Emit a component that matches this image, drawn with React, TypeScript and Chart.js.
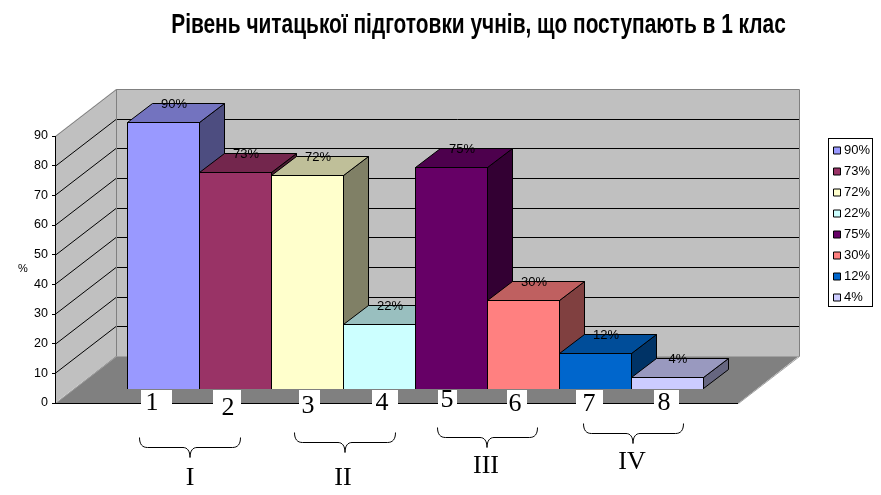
import React, { useEffect, useRef } from "react";
import { Chart, registerables } from "chart.js";

Chart.register(...registerables);

// ---- data ----
const categories = [1, 2, 3, 4, 5, 6, 7, 8];
const values = [90, 73, 72, 22, 75, 30, 12, 4];
const valueLabels = ["90%", "73%", "72%", "22%", "75%", "30%", "12%", "4%"];
const frontColors = ["#9999FF", "#993366", "#FFFFCC", "#CCFFFF", "#660066", "#FF8080", "#0066CC", "#CCCCFF"];
const groupNames = ["I", "II", "III", "IV"];
const titleText = "Рівень читацької підготовки учнів, що поступають в 1 клас";
const yTitle = "%";

// ---- annotation layout (hand-placed overlays of the picture) ----
const tagBoxes = [
  [141, 172, 152, 403], [213, 241, 228, 408], [299, 320, 308, 406], [372, 398, 382, 403],
  [438, 457, 447, 400], [507, 527, 515, 404], [576, 603, 589, 404], [654, 679, 664, 403],
];
const braces = [
  [139.5, 240.5, 190, 437.5], [294.5, 395.5, 345, 432.5], [437.5, 537.5, 487, 427.5], [583.5, 683.5, 633, 423.5],
];
const romanPos = [[190, 478], [343, 478], [486, 466], [632, 462]];

// ---- 3D projection settings ----
const WALL_DX = 61, WALL_DY = -47;
const BAR_SHIFT_X = 18.5, BAR_SHIFT_Y = -13.5;
const BAR_DX = 25, BAR_DY = -19;
const TITLE_CENTER = 478.5, TITLE_SQUEEZE = 0.746;
const SANS = '"Liberation Sans", Arial, sans-serif';
const SERIF = '"Liberation Serif", "Times New Roman", serif';

function shade(hex: string, k: number) {
  const n = parseInt(hex.slice(1), 16);
  const c = [(n >> 16) & 255, (n >> 8) & 255, n & 255].map((v) => Math.round(v * k));
  return `rgb(${c[0]},${c[1]},${c[2]})`;
}

function poly(ctx: CanvasRenderingContext2D, pts: number[][], fill?: string, stroke?: string, lw = 1) {
  ctx.beginPath();
  pts.forEach((p, i) => (i ? ctx.lineTo(p[0], p[1]) : ctx.moveTo(p[0], p[1])));
  ctx.closePath();
  if (fill) { ctx.fillStyle = fill; ctx.fill(); }
  if (stroke) { ctx.strokeStyle = stroke; ctx.lineWidth = lw; ctx.stroke(); }
}

function line(ctx: CanvasRenderingContext2D, x0: number, y0: number, x1: number, y1: number, c: string) {
  ctx.beginPath(); ctx.moveTo(x0, y0); ctx.lineTo(x1, y1); ctx.strokeStyle = c; ctx.lineWidth = 1; ctx.stroke();
}

const scene = {
  id: "scene3d",
  afterLayout(chart: any) {
    const t = chart.titleBlock;
    t.left = 0; t.right = chart.width;
    if (!t.__squeezed) {
      t.__squeezed = true;
      const draw = t.draw;
      t.draw = function () {
        const c = chart.ctx;
        c.save();
        c.translate(TITLE_CENTER, 0);
        c.scale(TITLE_SQUEEZE, 1);
        c.translate(-chart.width / 2, 0);
        draw.call(t);
        c.restore();
      };
    }
    const l = chart.legend;
    l.left = 828.5; l.right = 880; l.top = 136; l.bottom = 320;
  },
  beforeDraw(chart: any) {
    const { ctx, chartArea: a, scales } = chart;
    const y = scales.y;
    const L = a.left, R = a.right, T = a.top, B = a.bottom;
    ctx.save();
    ctx.fillStyle = "#fff"; ctx.fillRect(0, 0, chart.width, chart.height);
    poly(ctx, [[L, B], [L + WALL_DX, B + WALL_DY], [L + WALL_DX, T + WALL_DY], [L, T]], "#C0C0C0");
    poly(ctx, [[L + WALL_DX, B + WALL_DY], [R + WALL_DX, B + WALL_DY], [R + WALL_DX, T + WALL_DY], [L + WALL_DX, T + WALL_DY]], "#C0C0C0");
    poly(ctx, [[L, B + 0.5], [L + WALL_DX, B + WALL_DY], [R + WALL_DX, B + WALL_DY], [R, B + 0.5]], "#808080");
    for (const v of [10, 20, 30, 40, 50, 60, 70, 80]) {
      const py = Math.round(y.getPixelForValue(v)) + 0.5;
      line(ctx, L, py, L + WALL_DX, py + WALL_DY, "#000");
      line(ctx, L + WALL_DX, py + WALL_DY, R + WALL_DX, py + WALL_DY, "#000");
    }
    const wx = L + WALL_DX + 0.5, wt = T + WALL_DY + 0.5, wb = B + WALL_DY + 0.5, wr = R + WALL_DX + 0.5;
    line(ctx, L + 0.5, T + 0.5, wx, wt, "#808080");
    line(ctx, wx, wt, wr, wt, "#808080");
    line(ctx, wr, wt, wr, wb, "#808080");
    line(ctx, wx, wt, wx, wb, "#808080");
    line(ctx, wx, wb, wr, wb, "#A0A0A0");
    line(ctx, L + 0.5, B + 0.5, wx, wb, "#A0A0A0");
    line(ctx, R + 0.5, B + 0.5, wr, wb, "#A0A0A0");
    line(ctx, L, B + 0.5, R, B + 0.5, "#000");
    ctx.restore();
  },
  beforeDatasetsDraw(chart: any) {
    const { ctx } = chart;
    const bars = chart.getDatasetMeta(0).data;
    bars.forEach((b: any) => {
      b.y = Math.floor(b.y + BAR_SHIFT_Y) - BAR_SHIFT_Y;
      b.base = Math.ceil(b.base + BAR_SHIFT_Y) - BAR_SHIFT_Y;
    });
    ctx.save();
    bars.forEach((b: any, i: number) => {
      const left = b.x - b.width / 2 + BAR_SHIFT_X + 0.5;
      const right = b.x + b.width / 2 + BAR_SHIFT_X - 0.5;
      const top = b.y + BAR_SHIFT_Y + 0.5;
      const bottom = b.base + BAR_SHIFT_Y - 0.5;
      const col = frontColors[i];
      poly(ctx, [[right, top], [right + BAR_DX, top + BAR_DY], [right + BAR_DX, bottom + BAR_DY], [right, bottom]], shade(col, 0.5), "#000");
      poly(ctx, [[left, top], [left + BAR_DX, top + BAR_DY], [right + BAR_DX, top + BAR_DY], [right, top]], shade(col, 0.75), "#000");
    });
    ctx.restore();
    ctx.save();
    ctx.translate(BAR_SHIFT_X, BAR_SHIFT_Y);
  },
  afterDatasetsDraw(chart: any) {
    const { ctx } = chart;
    ctx.restore();
    const bars = chart.getDatasetMeta(0).data;
    ctx.save();
    ctx.fillStyle = "#000";
    ctx.font = `13px ${SANS}`;
    ctx.textAlign = "center";
    ctx.textBaseline = "middle";
    bars.forEach((b: any, i: number) => {
      ctx.fillText(valueLabels[i], b.x + BAR_SHIFT_X + 10.5, b.y + BAR_SHIFT_Y + BAR_DY + 1);
    });
    // axis caption
    ctx.font = `11px ${SANS}`;
    ctx.fillText(yTitle, 23, 269);
    // tag boxes with the hand-set numbers
    tagBoxes.forEach((t, i) => {
      ctx.fillStyle = "#fff";
      ctx.fillRect(t[0], 390, t[1] - t[0], 15);
      ctx.fillStyle = "#000";
      ctx.font = `26px ${SERIF}`;
      ctx.fillText(String(categories[i]), t[2], t[3]);
    });
    // braces
    ctx.strokeStyle = "#000";
    ctx.lineWidth = 1;
    braces.forEach((b) => {
      const [x0, x1, c, yt] = b;
      const yl = yt + 10, yp = yt + 20;
      ctx.beginPath();
      ctx.moveTo(x0, yt);
      ctx.bezierCurveTo(x0, yl - 3, x0 + 3, yl, x0 + 8, yl);
      ctx.lineTo(c - 7, yl);
      ctx.bezierCurveTo(c - 3, yl, c, yl + 3, c, yp);
      ctx.bezierCurveTo(c, yl + 3, c + 3, yl, c + 7, yl);
      ctx.lineTo(x1 - 8, yl);
      ctx.bezierCurveTo(x1 - 3, yl, x1, yl - 3, x1, yt);
      ctx.stroke();
    });
    ctx.fillStyle = "#000";
    ctx.font = `26px ${SERIF}`;
    groupNames.forEach((g, i) => ctx.fillText(g, romanPos[i][0], romanPos[i][1]));
    ctx.restore();
  },
  afterDraw(chart: any) {
    const { ctx } = chart;
    ctx.save();
    ctx.strokeStyle = "#000";
    ctx.lineWidth = 1;
    ctx.strokeRect(828.5, 138.5, 44, 168);
    ctx.restore();
  },
};

export default function App() {
  const ref = useRef<HTMLCanvasElement>(null);
  useEffect(() => {
    document.body.style.margin = "0";
    const chart = new Chart(ref.current!, {
      type: "bar",
      data: {
        datasets: [
          {
            label: "Рівень",
            data: categories.map((c, i) => ({ x: c, y: values[i] })),
            backgroundColor: frontColors,
            borderColor: "#000",
            borderWidth: 1,
            barThickness: 73,
            inflateAmount: 0,
            clip: false,
          } as any,
        ],
      },
      options: {
        responsive: false,
        animation: false,
        devicePixelRatio: 1,
        layout: { padding: { left: 0, top: 0, right: 143, bottom: 92 } },
        plugins: {
          tooltip: { enabled: false },
          title: {
            display: true,
            text: titleText,
            color: "#000",
            font: { family: SANS, size: 28, weight: "bold", lineHeight: 1.2 },
            padding: { top: 8, bottom: 94.4 },
          },
          legend: {
            display: true,
            position: "chartArea",
            align: "start",
            labels: {
              usePointStyle: true,
              pointStyle: "rect",
              boxWidth: 1,
              boxHeight: 7,
              padding: 8,
              color: "#000",
              font: { family: SANS, size: 13 },
              generateLabels: () =>
                valueLabels.map((t, i) => ({
                  text: t,
                  fillStyle: frontColors[i],
                  strokeStyle: "#000",
                  lineWidth: 1,
                  pointStyle: "rect",
                  datasetIndex: 0,
                  index: i,
                })),
            },
          },
        },
        scales: {
          x: { type: "linear", display: false, min: -0.25, max: 9.236, offset: false, grid: { display: false } },
          y: {
            min: 0,
            max: 90,
            afterFit: (s: any) => { s.width = 55; },
            border: { display: true, color: "#000" },
            grid: { drawOnChartArea: false, drawTicks: true, tickLength: 3, color: "#000" },
            ticks: { stepSize: 10, autoSkip: false, color: "#000", padding: 4, font: { family: SANS, size: 12.5 } },
          },
        },
      } as any,
      plugins: [scene as any],
    });
    return () => chart.destroy();
  }, []);
  return <canvas ref={ref} width={881} height={495} style={{ display: "block" }} />;
}
